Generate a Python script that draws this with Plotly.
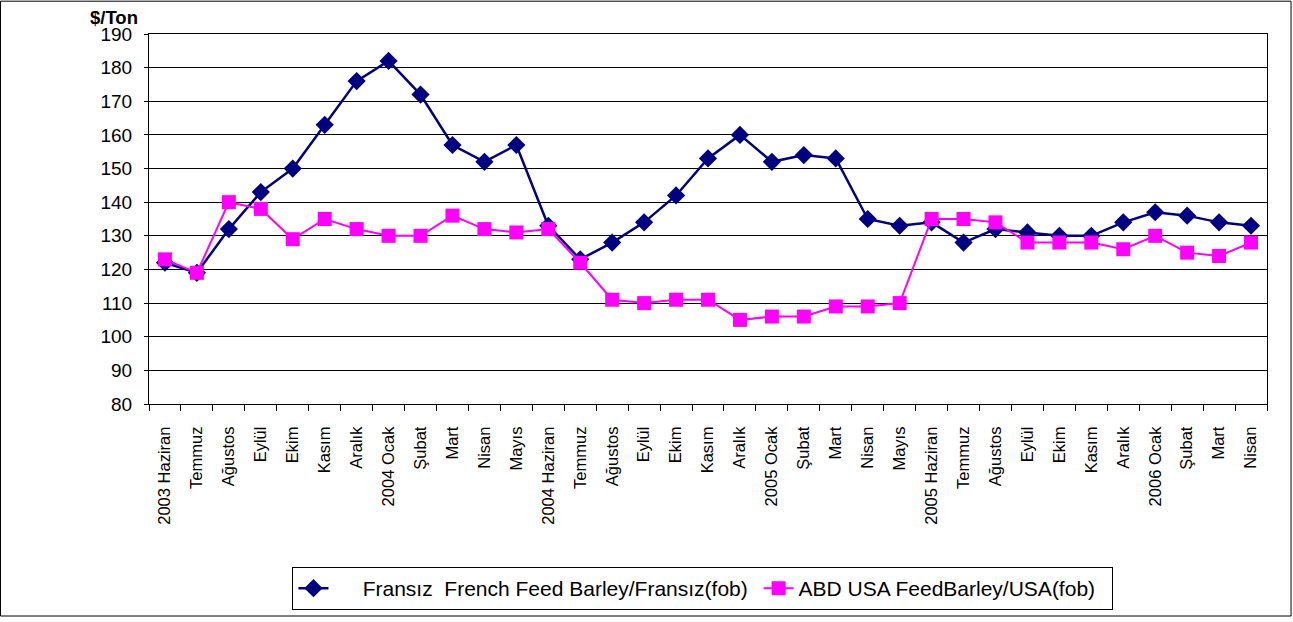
import plotly.graph_objects as go

# Month labels (x axis)
months = ['2003 Haziran', 'Temmuz', 'Ağustos', 'Eylül', 'Ekim', 'Kasım', 'Aralık',
          '2004 Ocak', 'Şubat', 'Mart', 'Nisan', 'Mayıs',
          '2004 Haziran', 'Temmuz', 'Ağustos', 'Eylül', 'Ekim', 'Kasım', 'Aralık',
          '2005 Ocak', 'Şubat', 'Mart', 'Nisan', 'Mayıs',
          '2005 Haziran', 'Temmuz', 'Ağustos', 'Eylül', 'Ekim', 'Kasım', 'Aralık',
          '2006 Ocak', 'Şubat', 'Mart', 'Nisan']

# Prices, $/Ton
french = [122, 119, 132, 143, 150, 163, 176, 182, 172, 157, 152, 157,
          133, 123, 128, 134, 142, 153, 160, 152, 154, 153, 135, 133,
          134, 128, 132, 131, 130, 130, 134, 137, 136, 134, 133]
usa = [123, 119, 140, 138, 129, 135, 132, 130, 130, 136, 132, 131,
       132, 122, 111, 110, 111, 111, 105, 106, 106, 109, 109, 110,
       135, 135, 134, 128, 128, 128, 126, 130, 125, 124, 128]

xs = list(range(len(months)))

fig = go.Figure()

fig.add_trace(go.Scatter(
    x=xs, y=french,
    mode='lines+markers',
    name='\u00a0' * 5 + 'Fransız\u00a0\u00a0French Feed Barley/Fransız(fob)\u00a0',
    line=dict(color='#000080', width=2.5),
    marker=dict(symbol='diamond', size=14, color='#000080'),
))

fig.add_trace(go.Scatter(
    x=xs, y=usa,
    mode='lines+markers',
    name='ABD USA FeedBarley/USA(fob)\u00a0\u00a0',
    line=dict(color='#FF00FF', width=2),
    marker=dict(symbol='square', size=14, color='#FF00FF'),
))

# plot area: x 149..1267, y 34..406 (pixels)
fig.update_layout(
    width=1293, height=622,
    margin=dict(l=149, r=26, t=34, b=216),
    paper_bgcolor='white',
    plot_bgcolor='white',
    font=dict(family='Liberation Sans, Arial, sans-serif', color='black'),
    showlegend=True,
    legend=dict(
        orientation='h',
        x=0.4955, xanchor='center',
        y=-0.4987, yanchor='middle',
        bordercolor='black', borderwidth=1,
        font=dict(size=21),
        tracegroupgap=0,
    ),
    annotations=[dict(
        text='<b>$/Ton</b>', xref='paper', yref='paper',
        x=-0.0545, y=1.0, xanchor='left', yanchor='bottom',
        showarrow=False, font=dict(size=18.5, color='black'),
        yshift=4,
    )],
    shapes=[dict(
        type='rect', xref='paper', yref='paper',
        x0=-0.1328, x1=1.0215, y0=-0.573, y1=1.0887,
        line=dict(color='black', width=1),
    )],
)

fig.update_xaxes(
    range=[-0.5, len(months) - 0.5],
    tickmode='array', tickvals=xs, ticktext=months,
    tickangle=-90,
    tickfont=dict(size=16.5),
    ticks='', showgrid=False,
    ticklabelstandoff=15,
    showline=True, linecolor='black', linewidth=1, mirror=True,
    minor=dict(tickmode='array', tickvals=[i - 0.5 for i in range(len(months) + 1)],
               ticks='outside', ticklen=6, tickcolor='black', showgrid=False),
    zeroline=False,
)

fig.update_yaxes(
    range=[80, 190], dtick=10,
    tickfont=dict(size=19),
    ticks='outside', ticklen=4, tickcolor='black',
    ticklabelstandoff=8,
    showgrid=True, gridcolor='black', gridwidth=1,
    showline=True, linecolor='black', linewidth=1, mirror=True,
    zeroline=False,
)

fig.write_html('out.html', config={'displayModeBar': False},
               post_script="document.body.style.margin='0';")
